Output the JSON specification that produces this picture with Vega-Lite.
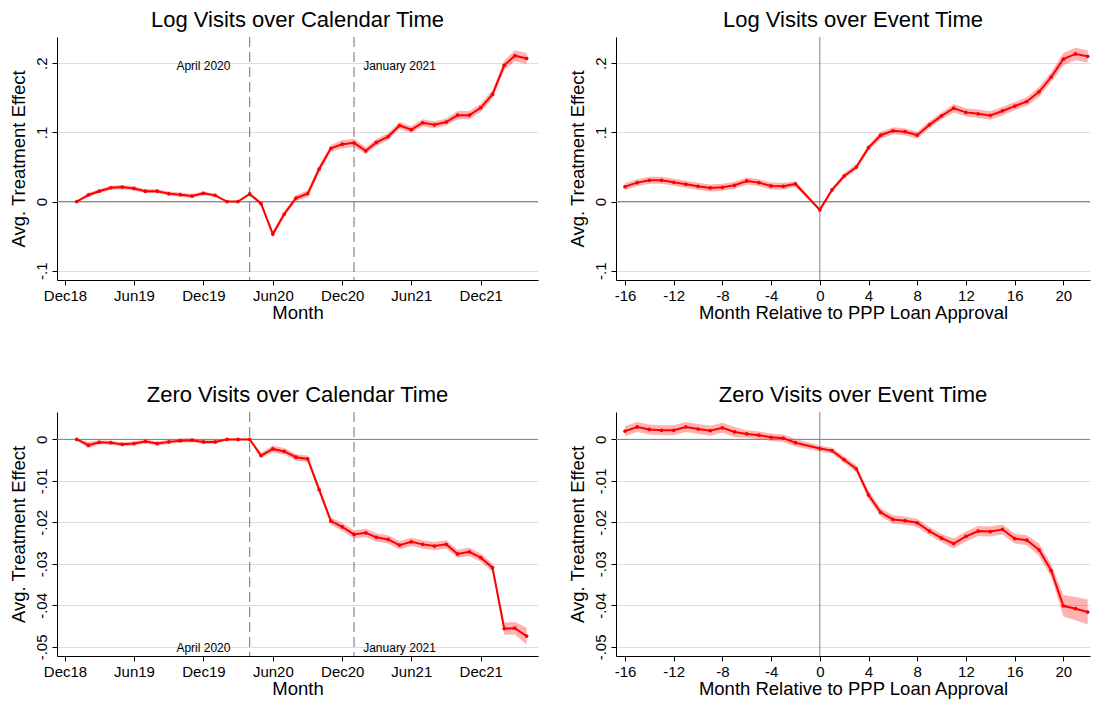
{
  "$schema": "https://vega.github.io/schema/vega-lite/v6.json",
  "padding": {"left": 9, "top": 8, "right": 2, "bottom": 2},
  "config": {
    "font": "Liberation Sans",
    "view": {"stroke": null},
    "axis": {
      "domainColor": "#000000", "tickColor": "#000000", "labelColor": "#000000", "titleColor": "#000000",
      "labelFont": "Liberation Sans", "titleFont": "Liberation Sans",
      "labelFontSize": 15, "titleFontSize": 18.5, "titleFontWeight": "normal",
      "tickSize": 5, "domainWidth": 1, "tickWidth": 1,
      "gridColor": "#dcdcdc", "gridWidth": 1
    },
    "axisX": {"grid": false, "labelPadding": 3, "titlePadding": 0, "labelFlush": false},
    "axisY": {"grid": true, "labelAngle": -90, "labelAlign": "center", "labelBaseline": "bottom", "labelPadding": 3, "titlePadding": 6},
    "title": {"fontSize": 22, "fontWeight": "normal", "font": "Liberation Sans", "color": "#000000", "anchor": "middle", "offset": 5}
  },
  "datasets": {
    "calLog": [
      {"month": "2019-01-01", "est": 0, "lo": -0.0005, "hi": 0.0005},
      {"month": "2019-02-01", "est": 0.0096, "lo": 0.0066, "hi": 0.0126},
      {"month": "2019-03-01", "est": 0.015, "lo": 0.012, "hi": 0.018},
      {"month": "2019-04-01", "est": 0.020, "lo": 0.017, "hi": 0.023},
      {"month": "2019-05-01", "est": 0.021, "lo": 0.018, "hi": 0.024},
      {"month": "2019-06-01", "est": 0.019, "lo": 0.016, "hi": 0.022},
      {"month": "2019-07-01", "est": 0.015, "lo": 0.012, "hi": 0.018},
      {"month": "2019-08-01", "est": 0.015, "lo": 0.012, "hi": 0.018},
      {"month": "2019-09-01", "est": 0.0115, "lo": 0.0085, "hi": 0.0145},
      {"month": "2019-10-01", "est": 0.010, "lo": 0.007, "hi": 0.013},
      {"month": "2019-11-01", "est": 0.008, "lo": 0.005, "hi": 0.011},
      {"month": "2019-12-01", "est": 0.012, "lo": 0.009, "hi": 0.015},
      {"month": "2020-01-01", "est": 0.009, "lo": 0.007, "hi": 0.011},
      {"month": "2020-02-01", "est": 0.000, "lo": -0.001, "hi": 0.001},
      {"month": "2020-03-01", "est": 0.000, "lo": -0.001, "hi": 0.001},
      {"month": "2020-04-01", "est": 0.011, "lo": 0.009, "hi": 0.013},
      {"month": "2020-05-01", "est": -0.003, "lo": -0.006, "hi": 0.000},
      {"month": "2020-06-01", "est": -0.047, "lo": -0.051, "hi": -0.043},
      {"month": "2020-07-01", "est": -0.018, "lo": -0.022, "hi": -0.014},
      {"month": "2020-08-01", "est": 0.005, "lo": 0.001, "hi": 0.009},
      {"month": "2020-09-01", "est": 0.0115, "lo": 0.0065, "hi": 0.0165},
      {"month": "2020-10-01", "est": 0.047, "lo": 0.042, "hi": 0.052},
      {"month": "2020-11-01", "est": 0.077, "lo": 0.072, "hi": 0.082},
      {"month": "2020-12-01", "est": 0.083, "lo": 0.077, "hi": 0.089},
      {"month": "2021-01-01", "est": 0.085, "lo": 0.079, "hi": 0.091},
      {"month": "2021-02-01", "est": 0.0735, "lo": 0.0685, "hi": 0.0785},
      {"month": "2021-03-01", "est": 0.0856, "lo": 0.0806, "hi": 0.0906},
      {"month": "2021-04-01", "est": 0.094, "lo": 0.089, "hi": 0.099},
      {"month": "2021-05-01", "est": 0.110, "lo": 0.105, "hi": 0.115},
      {"month": "2021-06-01", "est": 0.104, "lo": 0.099, "hi": 0.109},
      {"month": "2021-07-01", "est": 0.114, "lo": 0.109, "hi": 0.119},
      {"month": "2021-08-01", "est": 0.111, "lo": 0.106, "hi": 0.116},
      {"month": "2021-09-01", "est": 0.115, "lo": 0.110, "hi": 0.120},
      {"month": "2021-10-01", "est": 0.125, "lo": 0.119, "hi": 0.131},
      {"month": "2021-11-01", "est": 0.125, "lo": 0.119, "hi": 0.131},
      {"month": "2021-12-01", "est": 0.1356, "lo": 0.1296, "hi": 0.1416},
      {"month": "2022-01-01", "est": 0.155, "lo": 0.149, "hi": 0.161},
      {"month": "2022-02-01", "est": 0.197, "lo": 0.190, "hi": 0.204},
      {"month": "2022-03-01", "est": 0.211, "lo": 0.203, "hi": 0.219},
      {"month": "2022-04-01", "est": 0.207, "lo": 0.199, "hi": 0.215}
    ],
    "evtLog": [
      {"t": -16, "est": 0.0216, "lo": 0.0166, "hi": 0.0266},
      {"t": -15, "est": 0.0274, "lo": 0.0224, "hi": 0.0324},
      {"t": -14, "est": 0.0308, "lo": 0.0258, "hi": 0.0358},
      {"t": -13, "est": 0.0308, "lo": 0.0258, "hi": 0.0358},
      {"t": -12, "est": 0.0279, "lo": 0.0229, "hi": 0.0329},
      {"t": -11, "est": 0.025, "lo": 0.020, "hi": 0.030},
      {"t": -10, "est": 0.0221, "lo": 0.0171, "hi": 0.0271},
      {"t": -9, "est": 0.0197, "lo": 0.0147, "hi": 0.0247},
      {"t": -8, "est": 0.0207, "lo": 0.0157, "hi": 0.0257},
      {"t": -7, "est": 0.0236, "lo": 0.0186, "hi": 0.0286},
      {"t": -6, "est": 0.0298, "lo": 0.0248, "hi": 0.0348},
      {"t": -5, "est": 0.0274, "lo": 0.0224, "hi": 0.0324},
      {"t": -4, "est": 0.0226, "lo": 0.0176, "hi": 0.0276},
      {"t": -3, "est": 0.0221, "lo": 0.0171, "hi": 0.0271},
      {"t": -2, "est": 0.0255, "lo": 0.0215, "hi": 0.0295},
      {"t": 0, "est": -0.012, "lo": -0.014, "hi": -0.010},
      {"t": 1, "est": 0.0168, "lo": 0.0138, "hi": 0.0198},
      {"t": 2, "est": 0.037, "lo": 0.033, "hi": 0.041},
      {"t": 3, "est": 0.050, "lo": 0.046, "hi": 0.054},
      {"t": 4, "est": 0.078, "lo": 0.074, "hi": 0.082},
      {"t": 5, "est": 0.096, "lo": 0.091, "hi": 0.101},
      {"t": 6, "est": 0.1024, "lo": 0.0974, "hi": 0.1074},
      {"t": 7, "est": 0.101, "lo": 0.096, "hi": 0.106},
      {"t": 8, "est": 0.096, "lo": 0.091, "hi": 0.101},
      {"t": 9, "est": 0.111, "lo": 0.106, "hi": 0.116},
      {"t": 10, "est": 0.124, "lo": 0.119, "hi": 0.129},
      {"t": 11, "est": 0.135, "lo": 0.129, "hi": 0.141},
      {"t": 12, "est": 0.129, "lo": 0.123, "hi": 0.135},
      {"t": 13, "est": 0.127, "lo": 0.121, "hi": 0.133},
      {"t": 14, "est": 0.1245, "lo": 0.1185, "hi": 0.1305},
      {"t": 15, "est": 0.131, "lo": 0.125, "hi": 0.137},
      {"t": 16, "est": 0.138, "lo": 0.132, "hi": 0.144},
      {"t": 17, "est": 0.1447, "lo": 0.1387, "hi": 0.1507},
      {"t": 18, "est": 0.1587, "lo": 0.1517, "hi": 0.1657},
      {"t": 19, "est": 0.18, "lo": 0.173, "hi": 0.187},
      {"t": 20, "est": 0.206, "lo": 0.197, "hi": 0.215},
      {"t": 21, "est": 0.2135, "lo": 0.2045, "hi": 0.2225},
      {"t": 22, "est": 0.210, "lo": 0.201, "hi": 0.219}
    ],
    "calZero": [
      {"month": "2019-01-01", "est": 0, "lo": -0.0001, "hi": 0.0001},
      {"month": "2019-02-01", "est": -0.0014, "lo": -0.0022, "hi": -0.0006},
      {"month": "2019-03-01", "est": -0.0007, "lo": -0.0012, "hi": -0.0002},
      {"month": "2019-04-01", "est": -0.0008, "lo": -0.0013, "hi": -0.0003},
      {"month": "2019-05-01", "est": -0.0012, "lo": -0.0017, "hi": -0.0007},
      {"month": "2019-06-01", "est": -0.0010, "lo": -0.0015, "hi": -0.0005},
      {"month": "2019-07-01", "est": -0.0005, "lo": -0.0010, "hi": 0.0000},
      {"month": "2019-08-01", "est": -0.0010, "lo": -0.0015, "hi": -0.0005},
      {"month": "2019-09-01", "est": -0.0006, "lo": -0.0011, "hi": -0.0001},
      {"month": "2019-10-01", "est": -0.0003, "lo": -0.0008, "hi": 0.0002},
      {"month": "2019-11-01", "est": -0.0002, "lo": -0.0007, "hi": 0.0003},
      {"month": "2019-12-01", "est": -0.0006, "lo": -0.0011, "hi": -0.0001},
      {"month": "2020-01-01", "est": -0.0006, "lo": -0.0011, "hi": -0.0001},
      {"month": "2020-02-01", "est": 0, "lo": -0.0002, "hi": 0.0002},
      {"month": "2020-03-01", "est": 0, "lo": -0.0002, "hi": 0.0002},
      {"month": "2020-04-01", "est": 0, "lo": -0.0002, "hi": 0.0002},
      {"month": "2020-05-01", "est": -0.0039, "lo": -0.0045, "hi": -0.0033},
      {"month": "2020-06-01", "est": -0.0023, "lo": -0.0031, "hi": -0.0015},
      {"month": "2020-07-01", "est": -0.0029, "lo": -0.0037, "hi": -0.0021},
      {"month": "2020-08-01", "est": -0.0043, "lo": -0.0051, "hi": -0.0035},
      {"month": "2020-09-01", "est": -0.0047, "lo": -0.0055, "hi": -0.0039},
      {"month": "2020-10-01", "est": -0.0121, "lo": -0.0129, "hi": -0.0113},
      {"month": "2020-11-01", "est": -0.0197, "lo": -0.0205, "hi": -0.0189},
      {"month": "2020-12-01", "est": -0.0211, "lo": -0.0221, "hi": -0.0201},
      {"month": "2021-01-01", "est": -0.0229, "lo": -0.0239, "hi": -0.0219},
      {"month": "2021-02-01", "est": -0.0225, "lo": -0.0235, "hi": -0.0215},
      {"month": "2021-03-01", "est": -0.0236, "lo": -0.0246, "hi": -0.0226},
      {"month": "2021-04-01", "est": -0.0241, "lo": -0.0251, "hi": -0.0231},
      {"month": "2021-05-01", "est": -0.0255, "lo": -0.0265, "hi": -0.0245},
      {"month": "2021-06-01", "est": -0.0247, "lo": -0.0257, "hi": -0.0237},
      {"month": "2021-07-01", "est": -0.0253, "lo": -0.0263, "hi": -0.0243},
      {"month": "2021-08-01", "est": -0.0257, "lo": -0.0267, "hi": -0.0247},
      {"month": "2021-09-01", "est": -0.0253, "lo": -0.0263, "hi": -0.0243},
      {"month": "2021-10-01", "est": -0.0276, "lo": -0.0286, "hi": -0.0266},
      {"month": "2021-11-01", "est": -0.0271, "lo": -0.0281, "hi": -0.0261},
      {"month": "2021-12-01", "est": -0.0285, "lo": -0.0295, "hi": -0.0275},
      {"month": "2022-01-01", "est": -0.0309, "lo": -0.0319, "hi": -0.0299},
      {"month": "2022-02-01", "est": -0.0456, "lo": -0.0471, "hi": -0.0441},
      {"month": "2022-03-01", "est": -0.0455, "lo": -0.0470, "hi": -0.0440},
      {"month": "2022-04-01", "est": -0.0474, "lo": -0.0494, "hi": -0.0454}
    ],
    "evtZero": [
      {"t": -16, "est": 0.0020, "lo": 0.0008, "hi": 0.0032},
      {"t": -15, "est": 0.0030, "lo": 0.0018, "hi": 0.0042},
      {"t": -14, "est": 0.0024, "lo": 0.0012, "hi": 0.0036},
      {"t": -13, "est": 0.0022, "lo": 0.0010, "hi": 0.0034},
      {"t": -12, "est": 0.0022, "lo": 0.0010, "hi": 0.0034},
      {"t": -11, "est": 0.0030, "lo": 0.0018, "hi": 0.0042},
      {"t": -10, "est": 0.0025, "lo": 0.0013, "hi": 0.0037},
      {"t": -9, "est": 0.0021, "lo": 0.0009, "hi": 0.0033},
      {"t": -8, "est": 0.0028, "lo": 0.0016, "hi": 0.0040},
      {"t": -7, "est": 0.0018, "lo": 0.0006, "hi": 0.0030},
      {"t": -6, "est": 0.0013, "lo": 0.0004, "hi": 0.0022},
      {"t": -5, "est": 0.0010, "lo": 0.0001, "hi": 0.0019},
      {"t": -4, "est": 0.0005, "lo": -0.0004, "hi": 0.0014},
      {"t": -3, "est": 0.0003, "lo": -0.0006, "hi": 0.0012},
      {"t": -2, "est": -0.0008, "lo": -0.0017, "hi": 0.0001},
      {"t": 0, "est": -0.0022, "lo": -0.0029, "hi": -0.0015},
      {"t": 1, "est": -0.0027, "lo": -0.0034, "hi": -0.0020},
      {"t": 2, "est": -0.0049, "lo": -0.0057, "hi": -0.0041},
      {"t": 3, "est": -0.0071, "lo": -0.0079, "hi": -0.0063},
      {"t": 4, "est": -0.0134, "lo": -0.0144, "hi": -0.0124},
      {"t": 5, "est": -0.0176, "lo": -0.0186, "hi": -0.0166},
      {"t": 6, "est": -0.0193, "lo": -0.0203, "hi": -0.0183},
      {"t": 7, "est": -0.0196, "lo": -0.0206, "hi": -0.0186},
      {"t": 8, "est": -0.0201, "lo": -0.0211, "hi": -0.0191},
      {"t": 9, "est": -0.0221, "lo": -0.0231, "hi": -0.0211},
      {"t": 10, "est": -0.0238, "lo": -0.0248, "hi": -0.0228},
      {"t": 11, "est": -0.0251, "lo": -0.0263, "hi": -0.0239},
      {"t": 12, "est": -0.0234, "lo": -0.0246, "hi": -0.0222},
      {"t": 13, "est": -0.0221, "lo": -0.0233, "hi": -0.0209},
      {"t": 14, "est": -0.0222, "lo": -0.0234, "hi": -0.0210},
      {"t": 15, "est": -0.0217, "lo": -0.0229, "hi": -0.0205},
      {"t": 16, "est": -0.0239, "lo": -0.0251, "hi": -0.0227},
      {"t": 17, "est": -0.0243, "lo": -0.0255, "hi": -0.0231},
      {"t": 18, "est": -0.0266, "lo": -0.0281, "hi": -0.0251},
      {"t": 19, "est": -0.0316, "lo": -0.0331, "hi": -0.0301},
      {"t": 20, "est": -0.0401, "lo": -0.0427, "hi": -0.0375},
      {"t": 21, "est": -0.0408, "lo": -0.0436, "hi": -0.0380},
      {"t": 22, "est": -0.0416, "lo": -0.0446, "hi": -0.0386}
    ]
  },
  "columns": 2,
  "spacing": {"row": 61, "column": 29},
  "concat": [
    {
      "title": "Log Visits over Calendar Time",
      "width": 481, "height": 243,
      "layer": [
        {
          "data": {"name": "calLog"},
          "mark": {"type": "area", "color": "#ff0000", "opacity": 0.3},
          "encoding": {
            "x": {"field": "month", "type": "temporal", "title": "Month",
                  "scale": {"domain": [{"year": 2018, "month": 11, "date": 10}, {"year": 2022, "month": 5, "date": 1}], "nice": false},
                  "axis": {"values": [{"year": 2018, "month": 12, "date": 1}, {"year": 2019, "month": 6, "date": 1}, {"year": 2019, "month": 12, "date": 1}, {"year": 2020, "month": 6, "date": 1}, {"year": 2020, "month": 12, "date": 1}, {"year": 2021, "month": 6, "date": 1}, {"year": 2021, "month": 12, "date": 1}], "format": "%b%y"}},
            "y": {"field": "lo", "type": "quantitative", "title": "Avg. Treatment Effect",
                  "scale": {"domain": [-0.1134, 0.238], "nice": false, "zero": false},
                  "axis": {"values": [-0.1, 0, 0.1, 0.2], "labelExpr": "replace('' + datum.value, '0.', '.')"}},
            "y2": {"field": "hi"}
          }
        },
        {
          "data": {"values": [{"v": 0}]},
          "mark": {"type": "rule", "color": "#7f7f7f", "strokeWidth": 1},
          "encoding": {"y": {"field": "v", "type": "quantitative", "title": "Avg. Treatment Effect"}}
        },
        {
          "data": {"values": [{"d": "2020-04-01"}, {"d": "2021-01-01"}]},
          "mark": {"type": "rule", "color": "#6e6e6e", "strokeWidth": 1, "strokeDash": [10, 5]},
          "encoding": {"x": {"field": "d", "type": "temporal", "title": "Month"}}
        },
        {
          "data": {"name": "calLog"},
          "mark": {"type": "line", "color": "#ff0000", "strokeWidth": 2, "point": {"filled": true, "size": 14, "color": "#ff0000"}},
          "encoding": {
            "x": {"field": "month", "type": "temporal", "title": "Month"},
            "y": {"field": "est", "type": "quantitative", "title": "Avg. Treatment Effect"}
          }
        },
        {
          "data": {"values": [{"d": "2019-12-01", "v": 0.196, "label": "April 2020"}, {"d": "2021-05-01", "v": 0.196, "label": "January 2021"}]},
          "mark": {"type": "text", "fontSize": 12, "color": "#000000", "align": "center", "baseline": "middle"},
          "encoding": {
            "x": {"field": "d", "type": "temporal", "title": "Month"},
            "y": {"field": "v", "type": "quantitative", "title": "Avg. Treatment Effect"},
            "text": {"field": "label"}
          }
        }
      ]
    },
    {
      "title": "Log Visits over Event Time",
      "width": 474, "height": 243,
      "layer": [
        {
          "data": {"name": "evtLog"},
          "mark": {"type": "area", "color": "#ff0000", "opacity": 0.3},
          "encoding": {
            "x": {"field": "t", "type": "quantitative", "title": "Month Relative to PPP Loan Approval",
                  "scale": {"domain": [-16.74, 22.19], "nice": false, "zero": false},
                  "axis": {"values": [-16, -12, -8, -4, 0, 4, 8, 12, 16, 20], "labelExpr": "'' + datum.value"}},
            "y": {"field": "lo", "type": "quantitative", "title": "Avg. Treatment Effect",
                  "scale": {"domain": [-0.1134, 0.238], "nice": false, "zero": false},
                  "axis": {"values": [-0.1, 0, 0.1, 0.2], "labelExpr": "replace('' + datum.value, '0.', '.')"}},
            "y2": {"field": "hi"}
          }
        },
        {
          "data": {"values": [{"v": 0}]},
          "mark": {"type": "rule", "color": "#7f7f7f", "strokeWidth": 1},
          "encoding": {"y": {"field": "v", "type": "quantitative", "title": "Avg. Treatment Effect"}}
        },
        {
          "data": {"values": [{"v": 0}]},
          "mark": {"type": "rule", "color": "#7f7f7f", "strokeWidth": 1},
          "encoding": {"x": {"field": "v", "type": "quantitative", "title": "Month Relative to PPP Loan Approval"}}
        },
        {
          "data": {"name": "evtLog"},
          "mark": {"type": "line", "color": "#ff0000", "strokeWidth": 2, "point": {"filled": true, "size": 14, "color": "#ff0000"}},
          "encoding": {
            "x": {"field": "t", "type": "quantitative", "title": "Month Relative to PPP Loan Approval"},
            "y": {"field": "est", "type": "quantitative", "title": "Avg. Treatment Effect"}
          }
        }
      ]
    },
    {
      "title": "Zero Visits over Calendar Time",
      "width": 481, "height": 244,
      "layer": [
        {
          "data": {"name": "calZero"},
          "mark": {"type": "area", "color": "#ff0000", "opacity": 0.3},
          "encoding": {
            "x": {"field": "month", "type": "temporal", "title": "Month",
                  "scale": {"domain": [{"year": 2018, "month": 11, "date": 10}, {"year": 2022, "month": 5, "date": 1}], "nice": false},
                  "axis": {"values": [{"year": 2018, "month": 12, "date": 1}, {"year": 2019, "month": 6, "date": 1}, {"year": 2019, "month": 12, "date": 1}, {"year": 2020, "month": 6, "date": 1}, {"year": 2020, "month": 12, "date": 1}, {"year": 2021, "month": 6, "date": 1}, {"year": 2021, "month": 12, "date": 1}], "format": "%b%y"}},
            "y": {"field": "lo", "type": "quantitative", "title": "Avg. Treatment Effect",
                  "scale": {"domain": [-0.0522, 0.0066], "nice": false, "zero": false},
                  "axis": {"values": [-0.05, -0.04, -0.03, -0.02, -0.01, 0], "labelExpr": "replace('' + datum.value, '0.', '.')"}},
            "y2": {"field": "hi"}
          }
        },
        {
          "data": {"values": [{"v": 0}]},
          "mark": {"type": "rule", "color": "#7f7f7f", "strokeWidth": 1},
          "encoding": {"y": {"field": "v", "type": "quantitative", "title": "Avg. Treatment Effect"}}
        },
        {
          "data": {"values": [{"d": "2020-04-01"}, {"d": "2021-01-01"}]},
          "mark": {"type": "rule", "color": "#6e6e6e", "strokeWidth": 1, "strokeDash": [10, 5]},
          "encoding": {"x": {"field": "d", "type": "temporal", "title": "Month"}}
        },
        {
          "data": {"name": "calZero"},
          "mark": {"type": "line", "color": "#ff0000", "strokeWidth": 2, "point": {"filled": true, "size": 14, "color": "#ff0000"}},
          "encoding": {
            "x": {"field": "month", "type": "temporal", "title": "Month"},
            "y": {"field": "est", "type": "quantitative", "title": "Avg. Treatment Effect"}
          }
        },
        {
          "data": {"values": [{"d": "2019-12-01", "v": -0.0503, "label": "April 2020"}, {"d": "2021-05-01", "v": -0.0503, "label": "January 2021"}]},
          "mark": {"type": "text", "fontSize": 12, "color": "#000000", "align": "center", "baseline": "middle"},
          "encoding": {
            "x": {"field": "d", "type": "temporal", "title": "Month"},
            "y": {"field": "v", "type": "quantitative", "title": "Avg. Treatment Effect"},
            "text": {"field": "label"}
          }
        }
      ]
    },
    {
      "title": "Zero Visits over Event Time",
      "width": 474, "height": 244,
      "layer": [
        {
          "data": {"name": "evtZero"},
          "mark": {"type": "area", "color": "#ff0000", "opacity": 0.3},
          "encoding": {
            "x": {"field": "t", "type": "quantitative", "title": "Month Relative to PPP Loan Approval",
                  "scale": {"domain": [-16.74, 22.19], "nice": false, "zero": false},
                  "axis": {"values": [-16, -12, -8, -4, 0, 4, 8, 12, 16, 20], "labelExpr": "'' + datum.value"}},
            "y": {"field": "lo", "type": "quantitative", "title": "Avg. Treatment Effect",
                  "scale": {"domain": [-0.0522, 0.0066], "nice": false, "zero": false},
                  "axis": {"values": [-0.05, -0.04, -0.03, -0.02, -0.01, 0], "labelExpr": "replace('' + datum.value, '0.', '.')"}},
            "y2": {"field": "hi"}
          }
        },
        {
          "data": {"values": [{"v": 0}]},
          "mark": {"type": "rule", "color": "#7f7f7f", "strokeWidth": 1},
          "encoding": {"y": {"field": "v", "type": "quantitative", "title": "Avg. Treatment Effect"}}
        },
        {
          "data": {"values": [{"v": 0}]},
          "mark": {"type": "rule", "color": "#7f7f7f", "strokeWidth": 1},
          "encoding": {"x": {"field": "v", "type": "quantitative", "title": "Month Relative to PPP Loan Approval"}}
        },
        {
          "data": {"name": "evtZero"},
          "mark": {"type": "line", "color": "#ff0000", "strokeWidth": 2, "point": {"filled": true, "size": 14, "color": "#ff0000"}},
          "encoding": {
            "x": {"field": "t", "type": "quantitative", "title": "Month Relative to PPP Loan Approval"},
            "y": {"field": "est", "type": "quantitative", "title": "Avg. Treatment Effect"}
          }
        }
      ]
    }
  ]
}
